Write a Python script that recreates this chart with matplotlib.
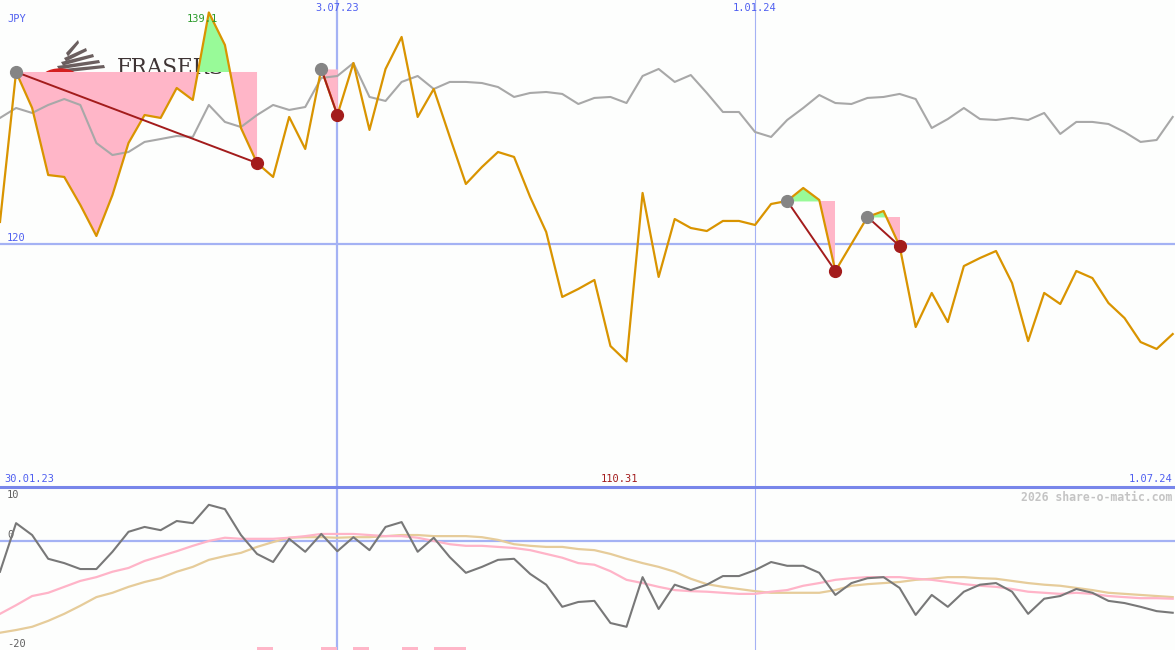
import matplotlib
matplotlib.use('Agg')
import matplotlib.pyplot as plt
import matplotlib.dates as mdates
from matplotlib.lines import Line2D
from matplotlib.patches import Ellipse, Polygon
import numpy as np
import pandas as pd

### data (weekly) ###
dates = pd.date_range('2023-02-06', periods=74, freq='7D')

price = [121.82, 134.19, 131.22, 125.69, 125.53, 123.22, 120.66, 124.04, 128.33, 130.64,
         130.40, 132.87, 131.88, 139.10, 136.42, 129.57, 126.68, 125.53, 130.48, 127.84,
         134.44, 130.64, 134.93, 129.41, 134.44, 137.08, 130.48, 132.79, 128.83, 124.95,
         126.35, 127.59, 127.18, 123.88, 120.99, 115.63, 116.29, 117.03, 111.58, 110.31,
         124.21, 117.28, 122.06, 121.32, 121.07, 121.90, 121.90, 121.57, 123.30, 123.55,
         124.62, 123.63, 117.77, 120.00, 122.23, 122.72, 119.83, 113.15, 115.96, 113.56,
         118.18, 118.84, 119.42, 116.78, 111.99, 115.96, 115.05, 117.77, 117.19, 115.13,
         113.89, 111.91, 111.34, 112.57]

index_line = [130.40, 131.22, 130.81, 131.47, 131.96, 131.47, 128.33, 127.34, 127.59, 128.42,
              128.66, 128.91, 128.83, 131.47, 130.07, 129.65, 130.64, 131.47, 131.06, 131.30,
              133.70, 133.86, 134.93, 132.13, 131.80, 133.37, 133.86, 132.79, 133.37, 133.37,
              133.28, 132.95, 132.13, 132.46, 132.54, 132.38, 131.55, 132.05, 132.13, 131.63,
              133.86, 134.44, 133.37, 133.94, 132.46, 130.89, 130.89, 129.24, 128.83, 130.23,
              131.22, 132.29, 131.63, 131.55, 132.05, 132.13, 132.38, 131.96, 129.57, 130.31,
              131.22, 130.31, 130.23, 130.40, 130.23, 130.81, 129.08, 130.07, 130.07, 129.90,
              129.24, 128.42, 128.58, 130.48]

osc = [-5.7, 3.3, 1.1, -3.3, -4.1, -5.2, -5.2, -2.0, 1.7, 2.6,
       2.0, 3.7, 3.3, 6.7, 5.9, 1.1, -2.4, -3.9, 0.4, -2.0,
       1.3, -1.9, 0.7, -1.7, 2.6, 3.5, -2.0, 0.6, -3.0, -5.9,
       -4.8, -3.5, -3.3, -6.1, -8.1, -12.2, -11.3, -11.1, -15.2, -15.9,
       -6.7, -12.6, -8.1, -9.1, -8.1, -6.5, -6.5, -5.4, -3.9, -4.6,
       -4.6, -5.9, -10.0, -7.8, -6.9, -6.7, -8.7, -13.7, -10.0, -12.2,
       -9.4, -8.1, -7.8, -9.4, -13.5, -10.7, -10.2, -8.9, -9.6, -11.1,
       -11.5, -12.2, -13.0, -13.3]

osc_fast = [-13.5, -11.9, -10.2, -9.6, -8.5, -7.4, -6.7, -5.7, -5.0, -3.7,
            -2.8, -1.9, -0.9, 0.0, 0.6, 0.4, 0.4, 0.4, 0.6, 0.9,
            1.3, 1.3, 1.3, 1.1, 0.9, 0.9, 0.6, 0.0, -0.6, -0.9,
            -0.9, -1.1, -1.3, -1.7, -2.4, -3.1, -4.1, -4.4, -5.6, -7.2,
            -7.8, -8.5, -9.1, -9.3, -9.4, -9.6, -9.8, -9.8, -9.4, -9.1,
            -8.3, -7.8, -7.2, -6.9, -6.7, -6.7, -6.7, -7.0, -7.2, -7.6,
            -8.0, -8.3, -8.5, -8.9, -9.4, -9.6, -9.8, -9.6, -9.8, -10.2,
            -10.4, -10.6, -10.6, -10.7]

osc_slow = [-17.0, -16.5, -15.9, -14.8, -13.5, -12.0, -10.4, -9.6, -8.5, -7.6,
            -6.9, -5.7, -4.8, -3.5, -2.8, -2.2, -1.1, -0.2, 0.6, 0.7,
            0.7, 0.6, 0.7, 0.7, 0.9, 1.1, 1.1, 0.9, 0.9, 0.9,
            0.7, 0.2, -0.6, -0.9, -1.1, -1.1, -1.5, -1.7, -2.4, -3.3,
            -4.1, -4.8, -5.7, -7.0, -8.0, -8.5, -8.9, -9.3, -9.6, -9.6,
            -9.6, -9.6, -9.1, -8.3, -8.0, -7.8, -7.6, -7.2, -7.0, -6.7,
            -6.7, -6.9, -7.0, -7.4, -7.8, -8.1, -8.3, -8.7, -9.1, -9.6,
            -9.8, -10.0, -10.2, -10.4]

drawdowns = [(1, 16), (20, 21), (49, 52), (54, 56)]   # (peak week, trough week)
signal_weeks = [16, 20, 22, 25, 27, 28]
grid_dates = ['2023-07-03', '2024-01-01']
grid_labels = ['3.07.23', '1.01.24']
start_label, end_label = '30.01.23', '1.07.24'
currency = 'JPY'
ref_level = 120
osc_labels = ['10', '0', '-20']

### colours ###
bg = '#fdfefd'
blue_txt = '#4f5ff0'
grid_c = '#a4b2f4'
sep_c = '#7886ea'
orange = '#d99400'
pink = '#ffb6c8'
green = '#98fa98'
darkred = '#a31c1c'
mono = 'DejaVu Sans Mono'

W, H = 1175, 650
fig = plt.figure(figsize=(W / 100, H / 100), dpi=100, facecolor=bg)

x = mdates.date2num(dates)
price = np.array(price)
xlim = (x[0], x[-1] + 1)

### logo behind the chart (pixel coords) ###
lg = fig.add_axes([0, 0, 1, 1], zorder=0)
lg.set_xlim(0, W)
lg.set_ylim(H, 0)
lg.axis('off')
blades = [((66, 53), (78, 40)), ((64, 58), (86, 48)), ((61, 62), (93, 54)),
          ((57, 66), (99, 60)), ((53, 70), (104, 65))]
for (x0, y0), (x1, y1) in blades:
    lg.add_patch(Polygon([(x0, y0), (x1, y1), (x1 + 1, y1 + 3), (x0 + 2, y0 + 3.5)],
                         closed=True, color='#6b5f5f', lw=0))
lg.add_patch(Ellipse((60, 80), 38, 22, color='#d42020'))
lg.text(117, 74, 'FRASERS', fontsize=15.5, family='DejaVu Serif', color='#3e3434', va='baseline')

### price panel ###
ax = fig.add_axes([0, 163 / H, 1, 487 / H], zorder=1)
ax.set_xlim(*xlim)
ax.set_ylim(99.95, 140.13)
ax.axis('off')

ax.axhline(ref_level, color=grid_c, lw=1.6, zorder=1)
for d, lbl, w in zip(grid_dates, grid_labels, [1.6, 0.8]):
    xd = mdates.date2num(pd.Timestamp(d))
    ax.axvline(xd, color=grid_c, lw=w, zorder=1)
    ax.annotate(lbl, xy=(xd, 1), xycoords=('data', 'axes fraction'), xytext=(0, -2),
                textcoords='offset points', ha='center', va='top', fontsize=7.5,
                family=mono, color=blue_txt)

for p, t in drawdowns:
    seg = slice(p, t + 1)
    lvl = price[p]
    ax.fill_between(x[seg], lvl, price[seg], where=price[seg] <= lvl, interpolate=True,
                    color=pink, lw=0, zorder=2)
    ax.fill_between(x[seg], lvl, price[seg], where=price[seg] >= lvl, interpolate=True,
                    color=green, lw=0, zorder=2)

ax.plot(x, index_line, color='#a8a8a8', lw=1.5, zorder=3)
ax.plot(x, price, color=orange, lw=1.6, zorder=4)

for p, t in drawdowns:
    ax.plot([x[p], x[t]], [price[p], price[t]], color=darkred, lw=1.4, zorder=5)
    ax.plot(x[p], price[p], 'o', color='#858585', ms=8.5, zorder=6)
    ax.plot(x[t], price[t], 'o', color=darkred, ms=8.5, zorder=6)

imax, imin = int(np.argmax(price)), int(np.argmin(price))
ax.annotate(f'{price[imax]:g}', xy=(x[imax], price[imax]), xytext=(-5, -1),
            textcoords='offset points', ha='center', va='top', fontsize=7.5,
            family=mono, color='#2a9a2a', zorder=7)
ax.annotate(f'{price[imin]:g}', xy=(x[imin], 0), xycoords=('data', 'axes fraction'),
            xytext=(-5, 2), textcoords='offset points', ha='center', va='bottom',
            fontsize=7.5, family=mono, color=darkred)

ax.annotate(currency, xy=(0, 1), xycoords='axes fraction', xytext=(5, -10),
            textcoords='offset points', va='top', fontsize=7.5, family=mono, color=blue_txt)
ax.annotate(str(ref_level), xy=(0, ref_level), xycoords=('axes fraction', 'data'),
            xytext=(5, 1), textcoords='offset points', va='bottom', fontsize=7.5,
            family=mono, color=blue_txt)
ax.annotate(start_label, xy=(0, 0), xycoords='axes fraction', xytext=(3, 2),
            textcoords='offset points', va='bottom', fontsize=7.5, family=mono, color=blue_txt)
ax.annotate(end_label, xy=(1, 0), xycoords='axes fraction', xytext=(-2, 2),
            textcoords='offset points', ha='right', va='bottom', fontsize=7.5,
            family=mono, color=blue_txt)

### oscillator panel ###
ax2 = fig.add_axes([0, 0, 1, 163 / H], zorder=1)
ax2.set_xlim(*xlim)
ax2.set_ylim(-20.2, 10)
ax2.axis('off')
ax2.axhline(0, color=grid_c, lw=1.6, zorder=1)
for d, w in zip(grid_dates, [1.6, 0.8]):
    ax2.axvline(mdates.date2num(pd.Timestamp(d)), color=grid_c, lw=w, zorder=1)

ax2.bar(x[signal_weeks], 0.6, width=7, bottom=-20.2, align='edge', color=pink, zorder=2)
ax2.plot(x, osc_slow, color='#e6cc9a', lw=1.6, zorder=3)
ax2.plot(x, osc_fast, color='#ffb4c8', lw=1.6, zorder=3)
ax2.plot(x, osc, color='#787878', lw=1.5, zorder=4)

ax2.annotate(osc_labels[0], xy=(0, 1), xycoords='axes fraction', xytext=(5, -2),
             textcoords='offset points', va='top', fontsize=7.5, family=mono, color='#606060')
ax2.annotate(osc_labels[1], xy=(0, 0), xycoords=('axes fraction', 'data'), xytext=(5, 1),
             textcoords='offset points', va='bottom', fontsize=7.5, family=mono, color='#606060')
ax2.annotate(osc_labels[2], xy=(0, 0), xycoords='axes fraction', xytext=(5, 1),
             textcoords='offset points', va='bottom', fontsize=7.5, family=mono, color='#606060')
ax2.annotate('2026 share-o-matic.com', xy=(1, 1), xycoords='axes fraction', xytext=(-2, -3),
             textcoords='offset points', ha='right', va='top', fontsize=8.3, family=mono,
             weight='bold', color='#c4c4c4')

# separator between the two panels
fig.add_artist(Line2D([0, 1], [163 / H, 163 / H], transform=fig.transFigure,
                      color=sep_c, lw=2.2, zorder=10))

plt.savefig('out.png', dpi=100, facecolor=bg)
